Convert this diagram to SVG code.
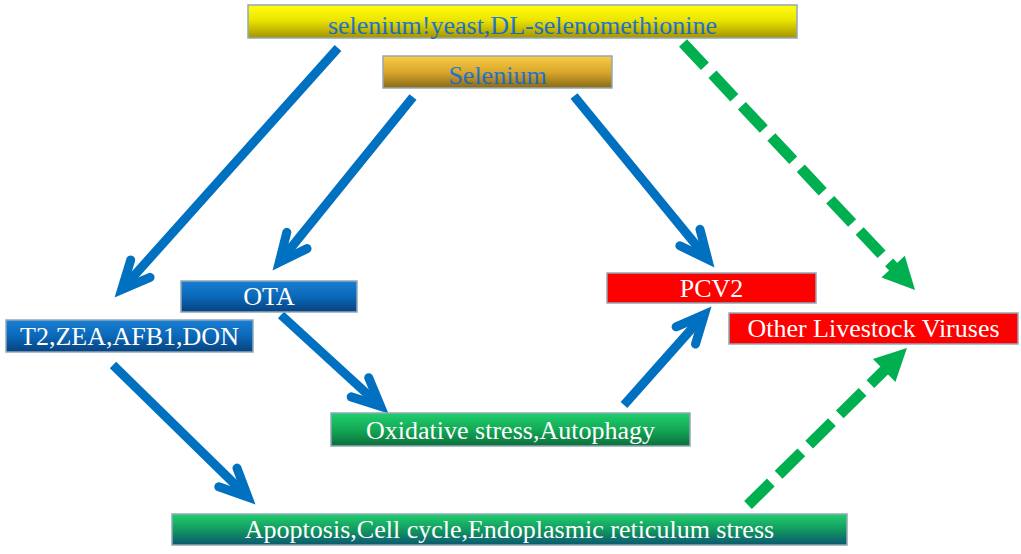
<svg xmlns="http://www.w3.org/2000/svg" width="1021" height="554" viewBox="0 0 1021 554">
<defs>
<linearGradient id="gYellow" x1="0" y1="0" x2="0" y2="1"><stop offset="0" stop-color="#FFFF10"/><stop offset="0.45" stop-color="#EDE500"/><stop offset="1" stop-color="#A39400"/></linearGradient>
<linearGradient id="gOrange" x1="0" y1="0" x2="0" y2="1"><stop offset="0" stop-color="#FACB45"/><stop offset="0.5" stop-color="#D9A82C"/><stop offset="1" stop-color="#8A6A16"/></linearGradient>
<linearGradient id="gBlue" x1="0" y1="0" x2="0" y2="1"><stop offset="0" stop-color="#1A7FD4"/><stop offset="0.5" stop-color="#0A68B8"/><stop offset="1" stop-color="#08427F"/></linearGradient>
<linearGradient id="gGreen" x1="0" y1="0" x2="0" y2="1"><stop offset="0" stop-color="#20CF6E"/><stop offset="0.5" stop-color="#13A955"/><stop offset="1" stop-color="#0C6E3C"/></linearGradient>
<linearGradient id="gTeal" x1="0" y1="0" x2="0" y2="1"><stop offset="0" stop-color="#20CF6E"/><stop offset="0.5" stop-color="#129A5F"/><stop offset="1" stop-color="#0A5870"/></linearGradient>
<linearGradient id="gTextBlue" x1="0" y1="0" x2="0" y2="1"><stop offset="0" stop-color="#2A86E6"/><stop offset="1" stop-color="#1A5CAE"/></linearGradient>
<marker id="blueHead" markerUnits="userSpaceOnUse" viewBox="-40 -25 50 50" refX="0" refY="0" markerWidth="50" markerHeight="50" orient="auto" overflow="visible">
<path d="M-28,-13 L0,0 L-28,13" fill="none" stroke="#0070C0" stroke-width="9" stroke-linecap="round" stroke-linejoin="miter"/>
</marker>
<marker id="greenHead" markerUnits="userSpaceOnUse" viewBox="-5 -20 40 40" refX="0" refY="0" markerWidth="40" markerHeight="40" orient="auto" overflow="visible">
<path d="M-2,-16 L30,0 L-2,16 Z" fill="#00B050"/>
</marker>
</defs>
<style>
.box{stroke:#93A8B6;stroke-width:1.5}
.t{font-family:"Liberation Serif","Times New Roman",serif;font-size:26px;text-anchor:middle}
.w{fill:#FFFFFF}
.b{fill:url(#gTextBlue)}
.blue{stroke:#0070C0;stroke-width:9;fill:none;stroke-linecap:butt;marker-end:url(#blueHead)}
.green{stroke:#00B050;stroke-width:11;fill:none;stroke-dasharray:32 11;stroke-linecap:butt;marker-end:url(#greenHead)}
</style>
<rect width="1021" height="554" fill="#FFFFFF"/>
<g id="connectors">
<line class="blue" x1="338" y1="48" x2="121.7" y2="289.5"/>
<line class="blue" x1="413" y1="97" x2="279.3" y2="262.2"/>
<line class="blue" x1="574" y1="96" x2="707.7" y2="259.2"/>
<line class="blue" x1="281" y1="315" x2="380.6" y2="406.2"/>
<line class="blue" x1="624" y1="405" x2="704.4" y2="314.5"/>
<line class="blue" x1="113" y1="365" x2="247.9" y2="497"/>
<line class="green" x1="683" y1="43" x2="894.5" y2="268.1"/>
<line class="green" x1="748" y1="505" x2="885.6" y2="369.1"/>
</g>
<g id="n-selenium-yeast">
<rect class="box" x="248" y="5" width="549" height="33" fill="url(#gYellow)"/>
<text class="t b" x="522.5" y="34">selenium!yeast,DL-selenomethionine</text>
</g>
<g id="n-selenium">
<rect class="box" x="383" y="56" width="229" height="32" fill="url(#gOrange)"/>
<text class="t b" x="497.5" y="84">Selenium</text>
</g>
<g id="n-ota">
<rect class="box" x="181" y="281" width="176" height="31" fill="url(#gBlue)"/>
<text class="t w" x="269" y="305">OTA</text>
</g>
<g id="n-t2">
<rect class="box" x="6" y="320" width="247" height="32" fill="url(#gBlue)"/>
<text class="t w" x="129.5" y="345">T2,ZEA,AFB1,DON</text>
</g>
<g id="n-pcv2">
<rect class="box" x="607" y="273" width="209" height="30" fill="#FF0000"/>
<text class="t w" x="711.5" y="297">PCV2</text>
</g>
<g id="n-other">
<rect class="box" x="729" y="313" width="289" height="31" fill="#FF0000"/>
<text class="t w" x="873.5" y="337">Other Livestock Viruses</text>
</g>
<g id="n-oxidative">
<rect class="box" x="331" y="413" width="359" height="33" fill="url(#gGreen)"/>
<text class="t w" x="510.5" y="439">Oxidative stress,Autophagy</text>
</g>
<g id="n-apoptosis">
<rect class="box" x="172" y="514" width="675" height="31" fill="url(#gTeal)"/>
<text class="t w" x="509.5" y="538">Apoptosis,Cell cycle,Endoplasmic reticulum stress</text>
</g>
</svg>
